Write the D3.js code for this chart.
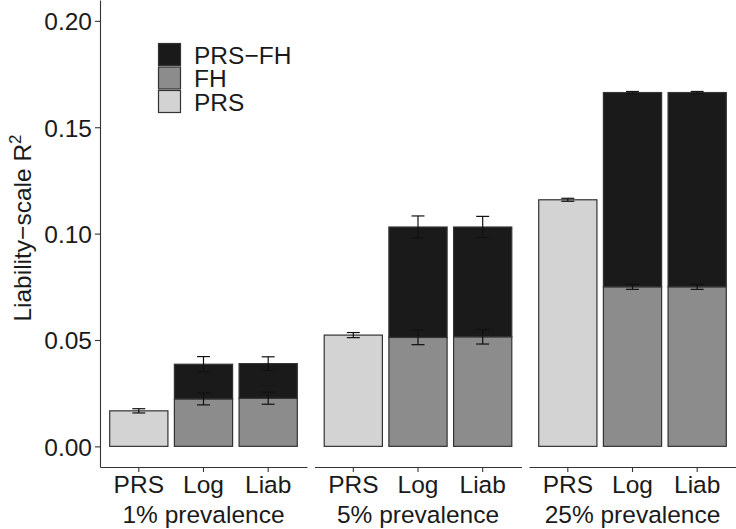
<!DOCTYPE html>
<html>
<head>
<meta charset="utf-8">
<script src="https://cdn.jsdelivr.net/npm/d3@7"></script>
<style>
  body { margin: 0; background: #fff; }
  svg { display: block; font-family: "Liberation Sans", Arial, sans-serif; }
  .axis path, .axis line { stroke: #333; stroke-width: 1.1; }
  .axis text { fill: #1a1a1a; font-size: 24.5px; }
</style>
</head>
<body>
<div id="chart"></div>
<script>
// facets and bars
const prevalences = ['1% prevalence', '5% prevalence', '25% prevalence'];
const models = ['PRS', 'Log', 'Liab'];
const components = ['PRS-FH', 'FH', 'PRS'];
const legendLabels = ['PRS\u2212FH', 'FH', 'PRS'];
const yTicks = [0, 0.05, 0.1, 0.15, 0.2];

// PRS-only model
const prsR2 = [0.0167, 0.0523, 0.1159];
const prsErr = [0.0010, 0.0012, 0.0007];
// FH part of the Log / Liab models
const fhLog = [0.0223, 0.0512, 0.0750];
const fhLiab = [0.0226, 0.0515, 0.0750];
const fhLogErr = [0.0028, 0.0034, 0.0012];
const fhLiabErr = [0.0028, 0.0034, 0.0012];
// full PRS+FH model (top of stack)
const totalLog = [0.0386, 0.1031, 0.1663];
const totalLiab = [0.0389, 0.1031, 0.1663];
const totalLogErr = [0.0036, 0.0052, 0.0005];
const totalLiabErr = [0.0032, 0.0050, 0.0005];

const colors = { 'PRS-FH': '#1a1a1a', 'FH': '#8c8c8c', 'PRS': '#d3d3d3' };

const width = 736;
const height = 529;
const plot = { left: 100, right: 736, top: 0, bottom: 467 };
const fontSize = 24.5;

// build rows: one row per bar, with stacked segments
let bars = [];
prevalences.forEach((p, i) => {
  bars.push({ prev: p, model: 'PRS', segs: [{ key: 'PRS', y0: 0, y1: prsR2[i] }],
    errs: [{ v: prsR2[i], e: prsErr[i] }] });
  bars.push({ prev: p, model: 'Log', segs: [
      { key: 'FH', y0: 0, y1: fhLog[i] },
      { key: 'PRS-FH', y0: fhLog[i], y1: totalLog[i] }],
    errs: [{ v: fhLog[i], e: fhLogErr[i] }, { v: totalLog[i], e: totalLogErr[i] }] });
  bars.push({ prev: p, model: 'Liab', segs: [
      { key: 'FH', y0: 0, y1: fhLiab[i] },
      { key: 'PRS-FH', y0: fhLiab[i], y1: totalLiab[i] }],
    errs: [{ v: fhLiab[i], e: fhLiabErr[i] }, { v: totalLiab[i], e: totalLiabErr[i] }] });
});

const svg = d3.select('#chart').append('svg')
  .attr('width', width)
  .attr('height', height);

const yScale = d3.scaleLinear().domain([-0.0097, 0.2098]).range([plot.bottom, plot.top]);

const facetScale = d3.scaleBand()
  .domain(prevalences)
  .range([plot.left, plot.right])
  .paddingInner(0.035);

const xScale = d3.scaleBand()
  .domain(models)
  .range([0, facetScale.bandwidth()])
  .paddingInner(0.1)
  .paddingOuter(0.15);

// y axis
svg.append('g')
  .attr('class', 'axis')
  .attr('transform', `translate(${plot.left},0)`)
  .call(d3.axisLeft(yScale).tickValues(yTicks).tickFormat(d3.format('.2f')).tickSize(5).tickSizeOuter(0).tickPadding(3))
  .call(g => g.selectAll('text').attr('dy', '0.36em'));

// y title
svg.append('text')
  .attr('transform', `translate(31,228) rotate(-90)`)
  .attr('text-anchor', 'middle')
  .attr('font-size', fontSize)
  .attr('fill', '#1a1a1a')
  .call(t => {
    t.append('tspan').text('Liability\u2212scale R');
    t.append('tspan').text('2').attr('font-size', 17).attr('dy', -10);
  });

const panels = svg.selectAll('.panel')
  .data(prevalences)
  .join('g')
  .attr('class', 'panel')
  .attr('transform', (d) => `translate(${facetScale(d)},0)`);

// x axis per panel
panels.append('g')
  .attr('class', 'axis')
  .attr('transform', `translate(0,${plot.bottom})`)
  .each(function () {
    d3.select(this).call(d3.axisBottom(xScale).tickSize(5).tickSizeOuter(0).tickPadding(3.5));
  });

// strip labels below
panels.append('text')
  .attr('x', facetScale.bandwidth() / 2)
  .attr('y', 523)
  .attr('text-anchor', 'middle')
  .attr('font-size', fontSize)
  .attr('fill', '#1a1a1a')
  .text((d) => d);

// bars
const barG = panels.selectAll('.bar')
  .data((p) => bars.filter((b) => b.prev === p))
  .join('g')
  .attr('class', 'bar')
  .attr('transform', (d) => `translate(${xScale(d.model)},0)`);

barG.selectAll('rect')
  .data((d) => d.segs)
  .join('rect')
  .attr('x', 0)
  .attr('width', xScale.bandwidth())
  .attr('y', (d) => yScale(d.y1))
  .attr('height', (d) => yScale(d.y0) - yScale(d.y1))
  .attr('fill', (d) => colors[d.key])
  .attr('stroke', '#333')
  .attr('stroke-width', 1.2);

// error bars
const capW = xScale.step() * 0.2;
const errG = barG.selectAll('.err')
  .data((d) => d.errs)
  .join('g')
  .attr('class', 'err')
  .attr('stroke', '#111')
  .attr('stroke-width', 1.2);

errG.append('line')
  .attr('x1', xScale.bandwidth() / 2)
  .attr('x2', xScale.bandwidth() / 2)
  .attr('y1', (d) => yScale(d.v - d.e))
  .attr('y2', (d) => yScale(d.v + d.e));

[(d) => d.v - d.e, (d) => d.v + d.e].forEach((f) => {
  errG.append('line')
    .attr('x1', xScale.bandwidth() / 2 - capW / 2)
    .attr('x2', xScale.bandwidth() / 2 + capW / 2)
    .attr('y1', (d) => yScale(f(d)))
    .attr('y2', (d) => yScale(f(d)));
});

// legend
const legend = svg.append('g').attr('transform', 'translate(158,43)');
const keySize = 23.5;
const items = legend.selectAll('g')
  .data(components)
  .join('g')
  .attr('transform', (d, i) => `translate(0,${i * keySize})`);

items.append('rect')
  .attr('x', 0.5)
  .attr('y', 0.5)
  .attr('width', keySize - 1.5)
  .attr('height', keySize - 1.5)
  .attr('fill', (d) => colors[d])
  .attr('stroke', '#333')
  .attr('stroke-width', 1.2);

items.append('text')
  .attr('x', 36)
  .attr('y', keySize / 2)
  .attr('dy', '0.36em')
  .attr('font-size', fontSize)
  .attr('fill', '#1a1a1a')
  .text((d, i) => legendLabels[i]);
</script>
</body>
</html>
